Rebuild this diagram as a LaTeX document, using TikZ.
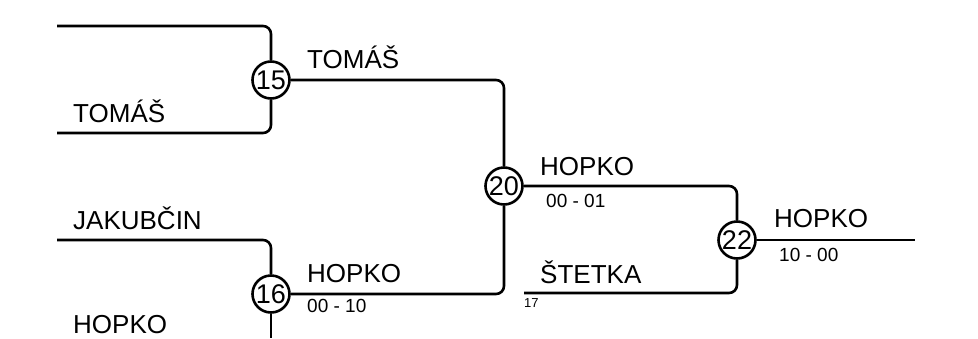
\documentclass[tikz,border=0pt]{standalone}
\usepackage{fontspec}
\setmainfont{Liberation Sans}
\usetikzlibrary{calc,positioning}

\begin{document}
\begin{tikzpicture}[x=1pt, y=-1pt]
\tikzset{matchnode/.style={circle,draw,line width=2.6pt,fill=white,minimum size=37pt,inner sep=0pt,font=\fontsize{27}{30}\selectfont},
playerlabel/.style={anchor=base west,inner sep=0pt,font=\fontsize{26}{30}\selectfont},
scorelabel/.style={anchor=base west,inner sep=0pt,font=\fontsize{19}{20}\selectfont},
seedlabel/.style={anchor=base west,inner sep=0pt,font=\fontsize{13}{14}\selectfont},
bracket/.style={line width=2.6pt,rounded corners=8pt}}
\useasboundingbox (0,0) rectangle (978,338);

%% Matches
\node (m15) [matchnode] at (271, 80) {15};
\node (m16) [matchnode] at (271, 294) {16};
\node (m20) [matchnode] at (504, 186) {20};
\node (m22) [matchnode] at (737, 240) {22};

%% Free ends
\coordinate (p1) at (57, 26);
\coordinate (p2) at (57, 133);
\coordinate (p3) at (57, 240);
\coordinate (p4) at (271, 338);
\coordinate (p17) at (524, 293);
\coordinate (win) at (915, 240);

%% Edges
\draw[bracket] (p1) -| (m15);
\draw[bracket] (p2) -| (m15);
\draw[bracket] (p3) -| (m16);
\draw[bracket] (m16) -- (p4);
\draw[bracket] (m15) -| (m20);
\draw[bracket] (m20) |- (m16);
\draw[bracket] (m20) -| (m22);
\draw[bracket] (p17) -| (m22);
\draw[bracket] (m22) -- (win);

%% Names
\foreach \u/\lab in {p2/TOMÁŠ, p3/JAKUBČIN} \node[playerlabel] at ($(\u) + (16,-11)$) {\lab};
\node[playerlabel] at (73, 333) {HOPKO};
\node[playerlabel] at (307, 68) {TOMÁŠ};
\node[playerlabel] at (307, 282) {HOPKO};
\node[playerlabel] at (540, 175) {HOPKO};
\node[playerlabel] at (540, 283) {ŠTETKA};
\node[playerlabel] at (774, 227) {HOPKO};

%% Scores
\node[scorelabel] at (307, 312) {00 - 10};
\node[scorelabel] at (546, 207) {00 - 01};
\node[scorelabel] at (779, 261) {10 - 00};
\node[seedlabel] at ($(p17) + (0,14)$) {17};

\end{tikzpicture}
\end{document}
